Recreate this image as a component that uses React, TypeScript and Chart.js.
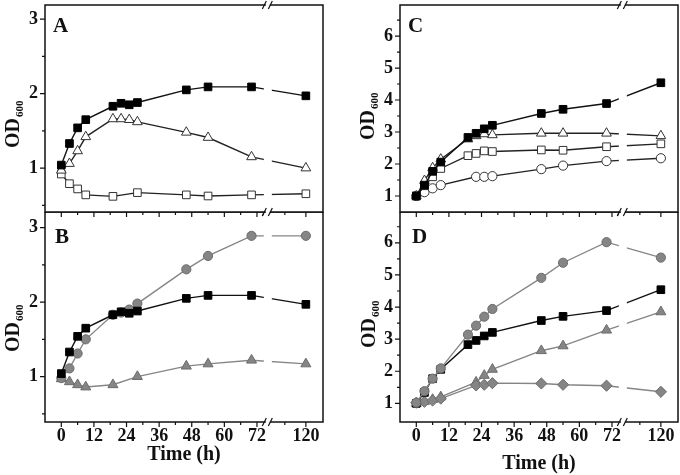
import { useEffect, useRef } from "react";
import { Chart, registerables } from "chart.js";

Chart.register(...registerables);

const FONT = "'Liberation Serif', 'Times New Roman', serif";

// sampling times (h)
const times12 = [0, 3, 6, 9, 19, 22, 25, 28, 46, 54, 70, 120];
const times10 = [0, 3, 6, 9, 19, 28, 46, 54, 70, 120];
const times11 = [0, 3, 6, 9, 22, 25, 28, 46, 54, 70, 120];

// x-axis ticks (h)
const xMajorTicks = [0, 12, 24, 36, 48, 60, 72, 120];
const xMinorTicks = [6, 18, 30, 42, 54, 66, 114];

// Panel A
const aFilledSquares = [1.04, 1.33, 1.54, 1.65, 1.83, 1.87, 1.85, 1.88, 2.05, 2.09, 2.09, 1.97];
const aOpenTriangles = [0.97, 1.06, 1.23, 1.42, 1.66, 1.66, 1.65, 1.62, 1.48, 1.41, 1.15, 1.0];
const aOpenSquares = [0.92, 0.79, 0.72, 0.64, 0.62, 0.67, 0.64, 0.625, 0.64, 0.655];

// Panel B
const bGrayCircles = [0.98, 1.11, 1.31, 1.5, 1.83, 1.86, 1.9, 1.98, 2.44, 2.62, 2.89, 2.89];
const bGrayTriangles = [0.97, 0.93, 0.89, 0.86, 0.89, 1.0, 1.14, 1.17, 1.22, 1.17];

// Panel C
const cFilledSquares = [1.0, 1.34, 1.77, 2.06, 2.83, 2.96, 3.1, 3.21, 3.58, 3.71, 3.89, 4.54];
const cOpenTriangles = [1.0, 1.48, 1.88, 2.15, 2.78, 2.88, 2.94, 2.91, 2.96, 2.96, 2.96, 2.88];
const cOpenSquares = [1.0, 1.32, 1.6, 1.86, 2.26, 2.33, 2.41, 2.39, 2.44, 2.43, 2.54, 2.63];
const cOpenCircles = [1.0, 1.12, 1.24, 1.34, 1.6, 1.6, 1.62, 1.84, 1.95, 2.09, 2.18];

// Panel D
const dGrayCircles = [1.02, 1.38, 1.77, 2.09, 3.14, 3.42, 3.7, 3.94, 4.91, 5.38, 6.02, 5.54];
const dGrayTriangles = [1.0, 1.06, 1.12, 1.2, 1.66, 1.87, 2.06, 2.64, 2.79, 3.28, 3.85];
const dGrayDiamonds = [1.02, 1.05, 1.09, 1.15, 1.56, 1.58, 1.63, 1.62, 1.58, 1.55, 1.36];

// broken time axis: 0-72 h linear, then a compressed segment holding 120 h
const BREAK_POS = 76;
function axisPos(t: number) {
  return t <= 72 ? t : 90 - (120 - t) * 1.29;
}

const BLACK = "#111";
const GRAY = "#858585";
const GRAY_EDGE = "#6c6c6c";

type Marker = "filledSquare" | "openSquare" | "openTriangle" | "openCircle" | "grayCircle" | "grayTriangle" | "grayDiamond";

function dataset(times: number[], values: number[], marker: Marker) {
  const base: any = {
    data: times.map((t, i) => ({ x: axisPos(t), y: values[i] })),
    borderWidth: 1.4,
    pointBorderWidth: 1,
    tension: 0,
    fill: false,
  };
  switch (marker) {
    case "filledSquare":
      return { ...base, borderColor: BLACK, pointStyle: "rect", pointRadius: 5.4, pointBackgroundColor: "#000", pointBorderColor: "#000" };
    case "openSquare":
      return { ...base, borderColor: "#222", pointStyle: "rect", pointRadius: 5.4, pointBackgroundColor: "#fff", pointBorderColor: "#333" };
    case "openTriangle":
      return { ...base, borderColor: "#222", pointStyle: "triangle", pointRadius: 5.6, pointBackgroundColor: "#fff", pointBorderColor: "#333" };
    case "openCircle":
      return { ...base, borderColor: "#222", pointStyle: "circle", pointRadius: 4.6, pointBackgroundColor: "#fff", pointBorderColor: "#333" };
    case "grayCircle":
      return { ...base, borderColor: GRAY, pointStyle: "circle", pointRadius: 4.6, pointBackgroundColor: GRAY, pointBorderColor: GRAY_EDGE };
    case "grayTriangle":
      return { ...base, borderColor: GRAY, pointStyle: "triangle", pointRadius: 5.8, pointBackgroundColor: GRAY, pointBorderColor: GRAY_EDGE };
    case "grayDiamond":
      return { ...base, borderColor: GRAY, pointStyle: "rectRot", pointRadius: 5.6, pointBackgroundColor: GRAY, pointBorderColor: GRAY_EDGE };
  }
}

type Panel = {
  letter: string;
  left: number;
  top: number;
  width: number;
  height: number;
  yWidth: number;
  padTop: number;
  padRight: number;
  padBottom: number;
  showX: boolean;
  xHeight: number;
  titlePad: number;
  yMin: number;
  yMax: number;
  yMajor: number[];
  yMinor: number[];
  letterX: number;
  letterY: number;
  odX: number;
  odY: number;
  datasets: any[];
};

const panels: Panel[] = [
  {
    letter: "A", left: 0, top: 0, width: 330, height: 220, yWidth: 45, padTop: 5, padRight: 7, padBottom: 8,
    showX: false, xHeight: 0, titlePad: 0, yMin: 0.41, yMax: 3.19, yMajor: [1, 2, 3], yMinor: [0.5, 1.5, 2.5],
    letterX: 53, letterY: 32, odX: 19, odY: 148,
    datasets: [
      dataset(times12, aFilledSquares, "filledSquare"),
      dataset(times12, aOpenTriangles, "openTriangle"),
      dataset(times10, aOpenSquares, "openSquare"),
    ],
  },
  {
    letter: "B", left: 0, top: 212, width: 330, height: 263, yWidth: 45, padTop: 0, padRight: 7, padBottom: 0,
    showX: true, xHeight: 53, titlePad: 10.5, yMin: 0.39, yMax: 3.21, yMajor: [1, 2, 3], yMinor: [0.5, 1.5, 2.5],
    letterX: 55, letterY: 31, odX: 19, odY: 140,
    datasets: [
      dataset(times12, aFilledSquares, "filledSquare"),
      dataset(times12, bGrayCircles, "grayCircle"),
      dataset(times10, bGrayTriangles, "grayTriangle"),
    ],
  },
  {
    letter: "C", left: 340, top: 0, width: 340, height: 220, yWidth: 60, padTop: 5, padRight: 2, padBottom: 8,
    showX: false, xHeight: 0, titlePad: 0, yMin: 0.5, yMax: 6.97, yMajor: [1, 2, 3, 4, 5, 6], yMinor: [1.5, 2.5, 3.5, 4.5, 5.5, 6.5],
    letterX: 68, letterY: 32, odX: 34, odY: 140,
    datasets: [
      dataset(times12, cFilledSquares, "filledSquare"),
      dataset(times12, cOpenTriangles, "openTriangle"),
      dataset(times12, cOpenSquares, "openSquare"),
      dataset(times11, cOpenCircles, "openCircle"),
    ],
  },
  {
    letter: "D", left: 340, top: 212, width: 340, height: 263, yWidth: 60, padTop: 0, padRight: 2, padBottom: 0,
    showX: true, xHeight: 53, titlePad: 1, yMin: 0.42, yMax: 6.96, yMajor: [1, 2, 3, 4, 5, 6], yMinor: [1.5, 2.5, 3.5, 4.5, 5.5, 6.5],
    letterX: 72, letterY: 31, odX: 35, odY: 136,
    datasets: [
      dataset(times12, dGrayCircles, "grayCircle"),
      dataset(times12, cFilledSquares, "filledSquare"),
      dataset(times11, dGrayDiamonds, "grayDiamond"),
      dataset(times11, dGrayTriangles, "grayTriangle"),
    ],
  },
];

function decoPlugin(p: Panel) {
  return {
    id: "deco" + p.letter,
    afterDatasetsDraw(chart: any) {
      const { ctx, chartArea: ca, scales } = chart;
      const xs = scales.x;
      const ys = scales.y;
      const xb = xs.getPixelForValue(BREAK_POS);
      ctx.save();
      // gap in the lines at the axis break
      ctx.fillStyle = "#fff";
      ctx.fillRect(xb - 4, ca.top + 1, 8, ca.bottom - ca.top - 2);
      // frame
      ctx.strokeStyle = BLACK;
      ctx.lineWidth = 1.5;
      ctx.strokeRect(ca.left, ca.top, ca.right - ca.left, ca.bottom - ca.top);
      // ticks
      ctx.lineWidth = 1.2;
      ctx.beginPath();
      for (const t of xMajorTicks) {
        const x = xs.getPixelForValue(axisPos(t));
        ctx.moveTo(x, ca.bottom);
        ctx.lineTo(x, ca.bottom + 5);
      }
      for (const t of xMinorTicks) {
        const x = xs.getPixelForValue(axisPos(t));
        ctx.moveTo(x, ca.bottom);
        ctx.lineTo(x, ca.bottom + 3);
      }
      for (const v of p.yMajor) {
        const y = ys.getPixelForValue(v);
        ctx.moveTo(ca.left, y);
        ctx.lineTo(ca.left - 5, y);
      }
      for (const v of p.yMinor) {
        const y = ys.getPixelForValue(v);
        ctx.moveTo(ca.left, y);
        ctx.lineTo(ca.left - 3, y);
      }
      ctx.stroke();
      // break marks
      for (const y of [ca.top, ca.bottom]) {
        ctx.fillStyle = "#fff";
        ctx.fillRect(xb - 2, y - 2, 4, 4);
        ctx.beginPath();
        ctx.moveTo(xb - 5.5, y + 4);
        ctx.lineTo(xb - 1.5, y - 4);
        ctx.moveTo(xb + 0.5, y + 4);
        ctx.lineTo(xb + 4.5, y - 4);
        ctx.stroke();
      }
      // panel letter
      ctx.fillStyle = BLACK;
      ctx.textAlign = "left";
      ctx.textBaseline = "alphabetic";
      ctx.font = `bold 21px ${FONT}`;
      ctx.fillText(p.letter, p.letterX, p.letterY);
      // OD600 axis title
      ctx.translate(p.odX, p.odY);
      ctx.rotate(-Math.PI / 2);
      ctx.font = `bold 20px ${FONT}`;
      ctx.fillText("OD", 0, 0);
      const w = ctx.measureText("OD").width;
      ctx.font = `bold 11px ${FONT}`;
      ctx.fillText("600", w + 1, 4);
      ctx.restore();
    },
  };
}

function PanelChart({ p }: { p: Panel }) {
  const ref = useRef<HTMLCanvasElement>(null);
  useEffect(() => {
    if (!ref.current) return;
    const xScale: any = {
      type: "linear",
      min: -6,
      max: 96.3,
      display: p.showX,
      grid: { display: false, drawTicks: false },
      border: { display: false },
      afterBuildTicks: (s: any) => {
        s.ticks = xMajorTicks.map((t) => ({ value: axisPos(t) }));
      },
      ticks: {
        autoSkip: false,
        maxRotation: 0,
        padding: 4,
        color: BLACK,
        font: { family: FONT, size: 18, weight: "bold" },
        callback: (_v: any, i: number) => String(xMajorTicks[i]),
      },
      title: {
        display: true,
        text: "Time (h)",
        color: BLACK,
        font: { family: FONT, size: 20, weight: "bold", lineHeight: 1 },
        padding: { top: 0, bottom: p.titlePad },
      },
    };
    if (p.showX) {
      xScale.afterFit = (s: any) => {
        s.height = p.xHeight;
        s.paddingLeft = 0;
        s.paddingRight = 0;
      };
    }
    const chart = new Chart(ref.current, {
      type: "line",
      data: { datasets: p.datasets },
      options: {
        animation: false,
        responsive: false,
        devicePixelRatio: 1,
        events: [],
        layout: {
          autoPadding: false,
          padding: { left: 0, right: p.padRight, top: p.padTop, bottom: p.padBottom },
        },
        plugins: { legend: { display: false }, tooltip: { enabled: false } },
        scales: {
          x: xScale,
          y: {
            type: "linear",
            min: p.yMin,
            max: p.yMax,
            grid: { display: false, drawTicks: false },
            border: { display: false },
            afterBuildTicks: (s: any) => {
              s.ticks = p.yMajor.map((v) => ({ value: v }));
            },
            afterFit: (s: any) => {
              s.width = p.yWidth;
              s.paddingTop = 0;
              s.paddingBottom = 0;
            },
            ticks: {
              padding: 7,
              color: BLACK,
              font: { family: FONT, size: 18, weight: "bold" },
              callback: (v: any) => String(v),
            },
          },
        },
      } as any,
      plugins: [decoPlugin(p)],
    });
    return () => chart.destroy();
  }, [p]);
  return (
    <canvas
      ref={ref}
      width={p.width}
      height={p.height}
      style={{ position: "absolute", left: p.left, top: p.top, width: p.width, height: p.height }}
    />
  );
}

export default function App() {
  return (
    <div style={{ position: "absolute", left: 0, top: 0, width: 680, height: 475, background: "#fff" }}>
      {panels.map((p) => (
        <PanelChart key={p.letter} p={p} />
      ))}
    </div>
  );
}
